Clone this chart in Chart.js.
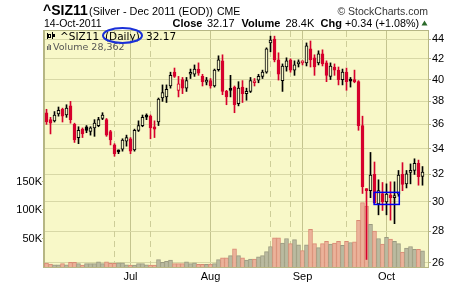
<!DOCTYPE html>
<html>
<head>
<meta charset="utf-8">
<script src="https://cdn.jsdelivr.net/npm/chart.js@4.4.0/dist/chart.umd.min.js"></script>
<style>
  html, body { margin: 0; padding: 0; background: #fff; }
</style>
</head>
<body>
<canvas id="siz11" width="460" height="284"></canvas>
<script>
// Silver Dec 2011 futures, daily, 2 Jun 2011 .. 14 Oct 2011 (95 sessions)
const opens = [37.0,36.4,36.3,36.9,37.3,36.8,37.6,36.0,34.9,35.6,
  35.8,35.4,35.7,35.9,36.5,36.4,35.4,34.3,33.85,33.95,
  34.6,34.8,33.9,35.5,35.9,36.7,36.7,35.8,36.2,38.3,
  38.4,39.4,40.7,39.0,40.0,39.2,40.5,40.5,41.0,40.3,
  39.75,39.9,39.4,40.95,41.8,38.9,39.1,39.3,37.8,39.3,
  38.7,38.9,39.7,39.95,40.3,40.7,43.6,44.0,41.9,39.9,
  41.2,41.9,40.9,41.5,41.6,41.6,43.0,42.1,41.6,42.5,
  41.6,40.3,41.2,40.9,40.0,40.7,39.9,39.95,39.8,35.9,
  30.9,30.8,32.0,29.85,30.6,30.0,30.5,30.3,30.55,32.0,
  31.3,32.15,32.3,32.85,31.85];
const highs = [37.3,36.6,37.1,37.5,37.4,37.7,38.0,36.1,35.8,35.7,
  35.9,35.8,36.4,36.6,37.0,36.5,35.5,34.4,33.9,34.8,
  35.1,34.9,35.6,36.3,36.8,36.9,36.8,36.3,38.3,39.5,
  39.5,40.7,41.1,40.3,40.2,40.2,41.0,41.4,41.6,40.5,
  40.2,40.1,41.0,42.3,42.4,39.0,40.4,39.4,39.8,39.9,
  39.2,40.2,40.1,40.5,40.9,43.1,44.3,44.3,42.6,41.5,
  42.1,42.0,41.8,41.9,41.8,43.6,43.8,42.4,42.8,42.9,
  41.8,41.6,41.5,41.2,41.0,41.1,40.2,40.9,39.9,36.7,
  30.95,33.7,32.95,31.6,31.4,31.3,31.45,31.45,32.3,32.9,
  32.3,32.8,33.2,33.1,32.6];
const lows = [36.0,35.2,36.2,36.7,36.2,36.6,36.1,34.5,34.4,34.9,
  35.3,35.1,35.0,35.8,36.4,35.0,34.3,33.4,33.6,33.8,
  34.2,33.6,33.8,35.4,35.8,36.4,34.8,34.9,35.9,38.0,
  37.9,39.2,40.2,38.4,38.7,38.9,40.1,40.3,40.4,39.4,
  39.5,39.2,39.3,40.8,38.6,37.7,38.4,37.0,37.6,37.9,
  38.1,38.8,39.4,39.7,40.1,40.6,42.7,41.7,39.95,38.9,
  40.8,40.7,40.4,41.2,41.4,41.3,41.2,40.4,41.4,41.3,
  39.8,40.0,40.4,39.5,39.5,39.0,39.3,39.7,35.5,30.6,
  26.2,30.3,29.9,29.1,29.4,29.1,28.74,28.5,30.4,30.8,
  31.0,31.3,32.0,31.2,31.2];
const closes = [36.2,36.1,36.8,37.2,36.7,37.4,36.4,34.7,35.5,35.2,
  35.5,35.7,36.1,36.4,36.8,35.1,34.7,33.6,33.75,34.7,
  34.9,33.8,35.5,35.9,36.6,36.62,35.7,35.6,38.2,38.8,
  39.1,40.4,40.3,39.6,39.2,39.9,40.6,41.0,40.6,39.8,
  39.95,39.4,40.9,41.9,38.9,38.4,39.0,37.7,39.2,38.7,
  38.9,39.9,39.85,40.3,40.7,43.0,43.9,41.9,40.5,41.3,
  41.8,40.9,41.4,41.7,41.65,43.3,41.9,41.2,42.5,41.5,
  40.4,41.3,40.9,40.0,40.7,39.8,39.85,39.8,35.9,31.1,
  30.8,31.95,29.95,30.8,30.0,30.55,30.3,30.45,31.95,31.25,
  32.05,32.2,32.85,31.83,32.17];
const volumes = [7000,5000,4000,4000,6000,4000,8000,8000,6000,3500,
  6000,6000,6000,9000,6000,9000,6500,6500,7500,7500,
  4000,3500,3500,6000,6000,4000,3500,3500,13000,8000,
  10000,12000,6000,6000,6000,9000,6000,7500,4500,4500,
  4500,5000,6000,13000,16000,16000,20000,32000,20000,16000,
  12000,14000,14000,18000,20000,27000,36000,51000,51000,42000,
  50000,41000,48000,39000,29000,39000,66000,41000,34000,41000,
  45000,40000,42000,45000,38000,45000,43000,44000,82000,113000,
  107000,75000,63000,50000,40000,52000,49000,45000,41000,26000,
  33000,36000,31000,31000,28362];

const monthTicks = [21, 41, 64, 85];
const monthLabels = ['Jul', 'Aug', 'Sep', 'Oct'];
const dashedTicks = [17, 26, 56, 61, 75];
const priceTicks = [26, 28, 30, 32, 34, 36, 38, 40, 42, 44];
const volumeTicks = [50000, 100000, 150000];

// highlighted box (session range and price range)
const boxFrom = 81.9, boxTo = 88.2, boxHigh = 30.68, boxLow = 29.82;

const font = '"Liberation Sans", Arial, sans-serif';
const bg = '#f8f8c8';
const frame = '#b6b684';
const redCol = '#d6002d';

const candleCol = closes.map((c, i) => {
  const prev = i === 0 ? opens[0] : closes[i - 1];
  return c < prev ? redCol : '#000000';
});
const bodyFill = closes.map((c, i) => c < opens[i] ? candleCol[i] : bg);
const volDown = closes.map((c, i) => c < (i === 0 ? opens[0] : closes[i - 1]));
const idx = closes.map((c, i) => i);

const decor = {
  id: 'decor',
  beforeDraw(chart) {
    const {ctx, chartArea: a} = chart;
    ctx.save();
    ctx.fillStyle = '#fff';
    ctx.fillRect(0, 0, chart.width, chart.height);
    ctx.fillStyle = bg;
    ctx.fillRect(a.left, a.top, a.right - a.left, a.bottom - a.top);
    ctx.restore();
  },
  beforeDatasetsDraw(chart) {
    const {ctx, chartArea: a} = chart;
    const xs = chart.scales.x;
    ctx.save();
    ctx.strokeStyle = '#cdcd98';
    ctx.lineWidth = 1;
    ctx.setLineDash([6, 4]);
    dashedTicks.forEach(d => {
      const px = Math.floor(xs.getPixelForValue(d)) + 0.5;
      ctx.beginPath();
      ctx.moveTo(px, a.top);
      ctx.lineTo(px, a.bottom);
      ctx.stroke();
    });
    ctx.restore();
  },
  afterDraw(chart) {
    const {ctx, chartArea: a} = chart;
    const xs = chart.scales.x, ys = chart.scales.y;
    ctx.save();
    // frame
    ctx.strokeStyle = frame;
    ctx.lineWidth = 1;
    ctx.strokeRect(a.left - 0.5, a.top - 0.5, a.right - a.left + 1, a.bottom - a.top + 1);

    // blue box
    ctx.strokeStyle = '#0000f0';
    ctx.lineWidth = 1.5;
    const bx1 = xs.getPixelForValue(boxFrom), bx2 = xs.getPixelForValue(boxTo);
    const by1 = ys.getPixelForValue(boxHigh), by2 = ys.getPixelForValue(boxLow);
    ctx.strokeRect(bx1, by1, bx2 - bx1, by2 - by1);

    // header line 1
    ctx.fillStyle = '#000';
    ctx.textBaseline = 'alphabetic';
    ctx.font = 'bold 14px ' + font;
    ctx.fillText('^SIZ11', 43, 15);
    ctx.font = '11px ' + font;
    ctx.fillText('(Silver - Dec 2011 (EOD))', 89, 15, 124);
    ctx.font = '10.5px ' + font;
    ctx.fillText('CME', 217, 15);
    ctx.fillStyle = '#333';
    ctx.textAlign = 'right';
    ctx.fillText('\u00a9 StockCharts.com', 428, 14.5);
    ctx.textAlign = 'left';

    // header line 2
    ctx.fillStyle = '#000';
    ctx.font = '10.5px ' + font;
    ctx.fillText('14-Oct-2011', 44, 27);
    ctx.font = 'bold 11px ' + font;
    ctx.fillText('Close', 172.5, 27);
    ctx.fillText('Volume', 241.5, 27);
    ctx.fillText('Chg', 320.5, 27);
    ctx.font = '11px ' + font;
    ctx.fillText('32.17', 207, 27);
    ctx.fillText('28.4K', 285.5, 27);
    ctx.fillText('+0.34 (+1.08%)', 345, 27, 74);
    ctx.fillStyle = '#2b6a2b';
    ctx.beginPath();
    ctx.moveTo(421.5, 25.5);
    ctx.lineTo(427.5, 25.5);
    ctx.lineTo(424.5, 20.5);
    ctx.closePath();
    ctx.fill();

    // in-chart legend
    ctx.fillStyle = '#000';
    ctx.fillRect(47, 33, 1, 6);
    ctx.strokeStyle = '#000';
    ctx.lineWidth = 1;
    ctx.strokeRect(48.5, 34.5, 2, 3);
    ctx.fillRect(52, 32, 1, 7);
    ctx.fillRect(53, 34, 2, 3);
    ctx.font = '10.5px "DejaVu Sans", Verdana, sans-serif';
    ctx.fillText('^SIZ11', 60, 39.5);
    ctx.fillText('(Daily)', 105, 39.5);
    ctx.fillText('32.17', 146, 39.5);
    ctx.fillStyle = '#666';
    ctx.fillRect(47, 46, 1, 4);
    ctx.fillRect(48.5, 44, 1, 6);
    ctx.fillRect(50, 45, 1, 5);
    ctx.font = '9.5px "DejaVu Sans", Verdana, sans-serif';
    ctx.fillStyle = '#555';
    ctx.fillText('Volume 28,362', 53, 49.5);

    // ellipse round "(Daily)"
    ctx.strokeStyle = '#1a30d8';
    ctx.lineWidth = 2;
    ctx.beginPath();
    ctx.ellipse(122.5, 35.5, 19.5, 7.5, 0, 0, Math.PI * 2);
    ctx.stroke();
    ctx.restore();
  }
};

const ctx = document.getElementById('siz11').getContext('2d');
const chart = new Chart(ctx, {
  type: 'bar',
  data: {
    datasets: [
      {
        label: 'body',
        data: idx.map(i => ({x: i, y: [opens[i], closes[i]]})),
        yAxisID: 'y',
        backgroundColor: bodyFill,
        borderColor: candleCol,
        borderWidth: 1,
        borderSkipped: false,
        barThickness: 3,
        minBarLength: 2,
        grouped: false,
        order: 0
      },
      {
        label: 'wick',
        data: idx.map(i => ({x: i, y: [lows[i], highs[i]]})),
        yAxisID: 'y',
        backgroundColor: candleCol,
        borderWidth: 0,
        barThickness: 1,
        grouped: false,
        order: 1
      },
      {
        label: 'volume',
        data: idx.map(i => ({x: i, y: volumes[i]})),
        yAxisID: 'yv',
        backgroundColor: volDown.map(d => d ? '#ebb29a' : '#babaa0'),
        borderColor: volDown.map(d => d ? '#d98a74' : '#9a9a80'),
        borderWidth: 1,
        borderSkipped: 'start',
        barThickness: 4,
        grouped: false,
        order: 2
      }
    ]
  },
  options: {
    responsive: false,
    devicePixelRatio: 1,
    animation: false,
    layout: { padding: { top: 31, left: 0, right: 0, bottom: 0 } },
    plugins: {
      legend: { display: false },
      tooltip: { enabled: false }
    },
    scales: {
      x: {
        type: 'linear',
        min: -0.625,
        max: 95.375,
        offset: false,
        afterBuildTicks: s => { s.ticks = monthTicks.map(v => ({value: v})); },
        afterFit: s => { s.height = 17; },
        ticks: {
          autoSkip: false,
          maxRotation: 0,
          padding: 3,
          color: '#000',
          font: { family: font, size: 11 },
          callback: v => monthLabels[monthTicks.indexOf(v)]
        },
        grid: { offset: false, color: '#c4c48e', drawTicks: false },
        border: { color: frame }
      },
      y: {
        type: 'logarithmic',
        position: 'right',
        min: 25.74,
        max: 44.84,
        afterBuildTicks: s => { s.ticks = priceTicks.map(v => ({value: v})); },
        afterFit: s => { s.width = 32; },
        ticks: {
          autoSkip: false,
          padding: 1,
          color: '#000',
          font: { family: font, size: 11 },
          callback: v => String(v)
        },
        grid: { color: '#d8d8a6', tickLength: 3, tickColor: frame },
        border: { color: frame }
      },
      yv: {
        type: 'linear',
        position: 'left',
        min: 0,
        max: 414000,
        afterBuildTicks: s => { s.ticks = volumeTicks.map(v => ({value: v})); },
        afterFit: s => { s.width = 44; },
        ticks: {
          autoSkip: false,
          padding: 0,
          color: '#000',
          font: { family: font, size: 11 },
          callback: v => (v / 1000) + 'K'
        },
        grid: { drawOnChartArea: false, tickLength: 2, tickColor: frame },
        border: { color: frame }
      }
    }
  },
  plugins: [decor]
});
</script>
</body>
</html>
